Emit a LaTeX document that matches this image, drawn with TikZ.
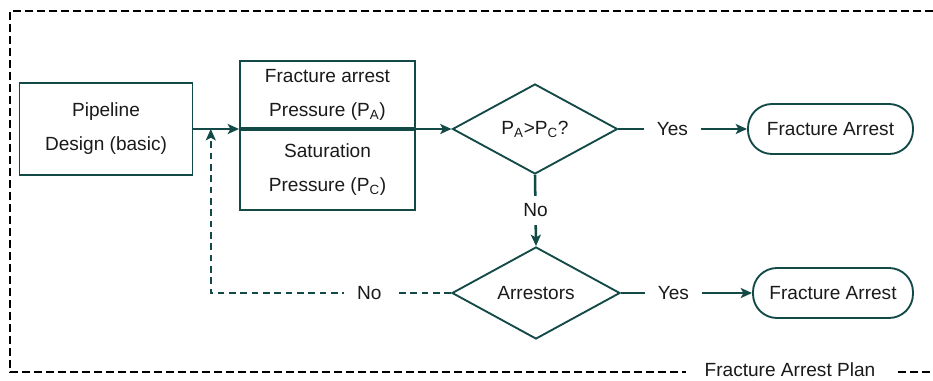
\documentclass[tikz,border=0pt]{standalone}
\usepackage{fontspec}
\setmainfont{Liberation Sans}
\usetikzlibrary{arrows.meta, calc, shapes.geometric}
\definecolor{pipeteal}{HTML}{134A47}
\definecolor{inkgray}{HTML}{1A1A1A}

\begin{document}
\begin{tikzpicture}[
    x=0.75pt, y=-0.75pt,
    >={Stealth[length=8.5pt, width=7.5pt, inset=2pt]},
    every node/.style={text=inkgray, font=\fontsize{14.3}{25.5}\selectfont},
    procbox/.style={draw=pipeteal, line width=1.4pt, align=center, inner sep=0pt},
    decision/.style={diamond, draw=pipeteal, line width=1.4pt, inner sep=0pt},
    terminal/.style={draw=pipeteal, line width=1.4pt, rounded corners=18pt,
      inner sep=0pt, minimum height=37.5pt},
    flow/.style={draw=pipeteal, line width=1.9pt},
    backflow/.style={flow, dash pattern=on 5pt off 3.5pt},
    flowlbl/.style={fill=white, inner xsep=10pt, inner ysep=6pt},
  ]

  \useasboundingbox (0,0) rectangle (933,380);

  % === Plan frame (open on the right) ===
  \draw[black, line width=2pt, dash pattern=on 6pt off 3pt]
    (933,11) -- (10,11) -- (10,372) -- (933,372);
  \node[fill=white, inner xsep=14pt, inner ysep=2pt] (plan) at (790,370)
    {Fracture Arrest Plan};

  % === Boxes ===
  \node[procbox, minimum width=129.75pt, minimum height=69pt] (pipe)
    at (106,129) {Pipeline\\Design (basic)};
  % split box: arrest pressure on top, saturation pressure below
  \node[procbox, anchor=south, minimum width=131.25pt, minimum height=50.25pt] (pa)
    at (327.5,129) {Fracture arrest\\Pressure (P\textsubscript{A})};
  \node[procbox, anchor=north, minimum width=131.25pt, minimum height=60pt] (pc)
    at (pa.south) {Saturation\\Pressure (P\textsubscript{C})};

  % === Decisions and outcomes ===
  \node[decision, minimum width=123.75pt, minimum height=67.5pt] (d1)
    at (535,129) {P\textsubscript{A}>P\textsubscript{C}?};
  \node[terminal, minimum width=123.75pt] (t1) at (830.5,129) {Fracture Arrest};
  \node[decision, minimum width=126pt, minimum height=69pt] (d2)
    at (536,293) {Arrestors};
  \node[terminal, minimum width=120pt] (t2) at (833,293) {Fracture Arrest};

  % === Connectors ===
  \coordinate (join) at ($(pipe.east)!0.38!(pa.south west)$);
  \coordinate (back) at (join |- d2.west);
  \draw[flow, ->] (pipe.east) -- (pa.south west);
  \draw[flow, ->] (pa.south east) -- (d1.west);
  \draw[flow, ->] (d1.east) -- node[flowlbl, pos=0.42] {Yes} (t1.west);
  \draw[flow, ->] (d1.south) -- node[flowlbl] {No} (d2.north);
  \draw[flow, ->] (d2.east) -- node[flowlbl, pos=0.4] {Yes} (t2.west);
  % loop back when there are no arrestors
  \draw[backflow, ->] (d2.west) -- node[flowlbl, pos=0.34] {No} (back) -- (join);

\end{tikzpicture}
\end{document}
